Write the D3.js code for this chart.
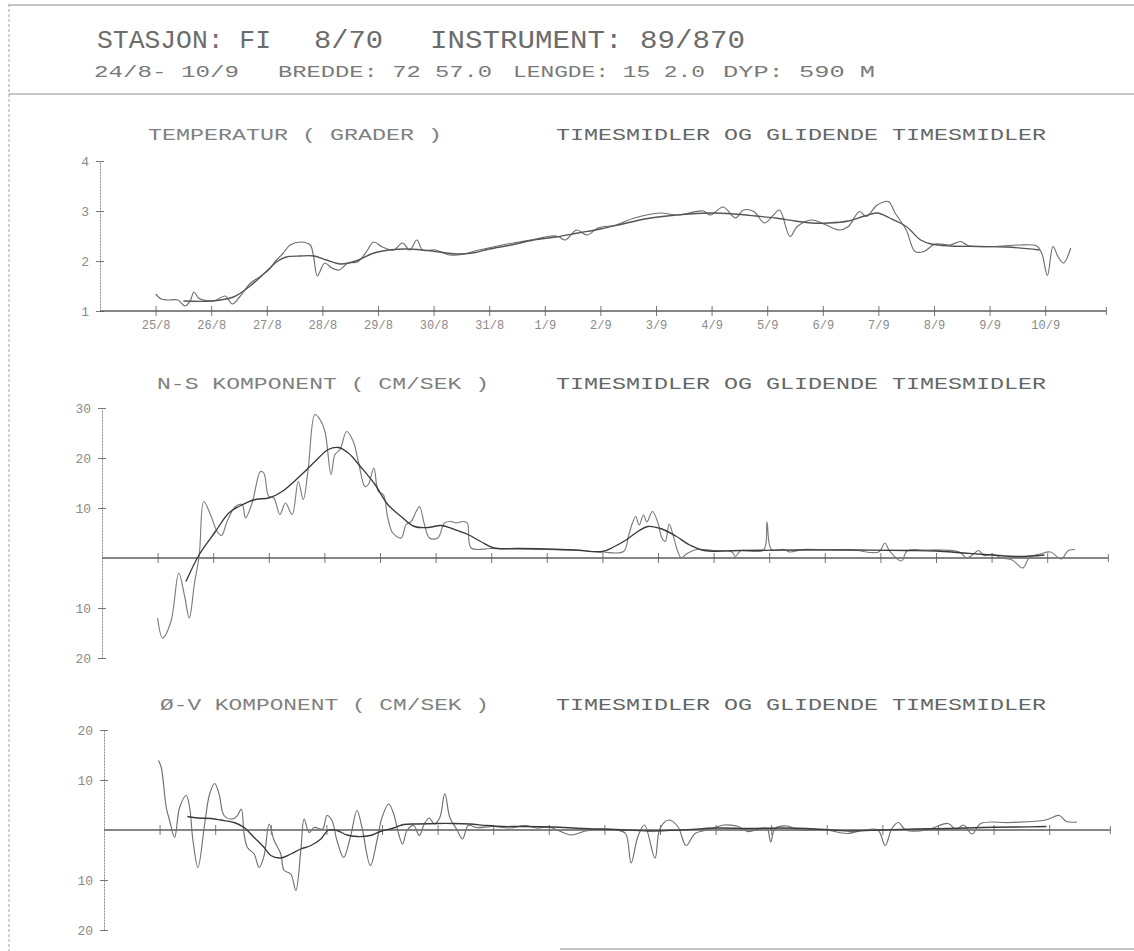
<!DOCTYPE html>
<html><head><meta charset="utf-8">
<script src="https://cdn.jsdelivr.net/npm/d3@7/dist/d3.min.js"></script>
<style>
html,body{margin:0;padding:0;background:#fff;}
svg text{font-family:"Liberation Mono","DejaVu Sans Mono",monospace;fill:#707070;}
</style></head>
<body>
<svg id="c" width="1134" height="951"></svg>
<script>
// ---------- data ----------
const dayLabels = ["25/8","26/8","27/8","28/8","29/8","30/8","31/8","1/9","2/9","3/9","4/9","5/9","6/9","7/9","8/9","9/9","10/9"];
const dayTicks = d3.range(1, 18);
const tempTicks = [1, 2, 3, 4];
const nsTicks = [30, 20, 10, -10, -20];
const ovTicks = [20, 10, -10, -20];

const headerLine1 = [["STASJON: FI", 97, 271], ["8/70", 314, 383], ["INSTRUMENT: 89/870", 430, 745]];
const headerLine2 = [["24/8- 10/9", 94, 239], ["BREDDE: 72 57.0", 278, 492], ["LENGDE: 15 2.0", 513, 705], ["DYP: 590 M", 723, 875]];
const titleRight = "TIMESMIDLER OG GLIDENDE TIMESMIDLER";
const titleTemp = "TEMPERATUR ( GRADER )";
const titleNS = "N-S KOMPONENT ( CM/SEK )";
const titleOV = "Ø-V KOMPONENT ( CM/SEK )";

// temperature: hourly means and sliding means [day, degrees]
const tempHourly = [[1.0,1.34],[1.1,1.24],[1.2,1.22],[1.4,1.22],[1.53,1.1],[1.62,1.2],[1.69,1.38],[1.77,1.26],[1.86,1.22],[2.05,1.2],[2.25,1.3],[2.38,1.14],[2.51,1.28],[2.7,1.55],[2.87,1.68],[3.03,1.82],[3.16,2.0],[3.29,2.15],[3.42,2.32],[3.62,2.38],[3.78,2.32],[3.84,2.1],[3.91,1.7],[4.04,1.96],[4.17,1.86],[4.3,1.82],[4.46,1.96],[4.63,1.98],[4.79,2.18],[4.92,2.38],[5.08,2.28],[5.28,2.22],[5.44,2.36],[5.57,2.22],[5.7,2.42],[5.8,2.22],[6.03,2.22],[6.29,2.12],[6.55,2.14],[6.81,2.22],[7.07,2.28],[7.33,2.34],[7.53,2.38],[7.85,2.44],[8.11,2.5],[8.24,2.49],[8.37,2.42],[8.57,2.62],[8.76,2.52],[8.96,2.66],[9.28,2.72],[9.61,2.86],[10.07,2.96],[10.39,2.92],[10.85,3.0],[10.98,2.92],[11.21,3.08],[11.43,2.86],[11.57,3.02],[11.76,2.99],[11.95,2.76],[12.09,2.89],[12.22,3.02],[12.41,2.49],[12.54,2.69],[12.8,2.82],[13.06,2.72],[13.3,2.62],[13.46,2.69],[13.66,2.99],[13.78,2.89],[13.98,3.12],[14.18,3.19],[14.3,2.96],[14.5,2.62],[14.66,2.19],[14.82,2.19],[15.02,2.34],[15.29,2.32],[15.48,2.39],[15.61,2.31],[16.06,2.29],[16.52,2.32],[16.85,2.3],[16.94,2.15],[17.04,1.71],[17.14,2.29],[17.23,2.09],[17.33,1.96],[17.46,2.26]];
const tempSmooth = [[1.5,1.2],[2.0,1.2],[2.4,1.28],[2.7,1.5],[3.0,1.8],[3.2,2.0],[3.35,2.08],[3.6,2.1],[3.85,2.1],[4.07,2.02],[4.33,1.94],[4.6,2.0],[4.9,2.15],[5.2,2.22],[5.5,2.24],[5.8,2.22],[6.1,2.18],[6.4,2.14],[6.7,2.16],[7.0,2.24],[7.4,2.32],[7.8,2.42],[8.2,2.48],[8.6,2.56],[9.0,2.64],[9.4,2.74],[9.8,2.84],[10.2,2.9],[10.6,2.94],[11.0,2.96],[11.4,2.94],[11.8,2.9],[12.15,2.86],[12.5,2.8],[12.8,2.76],[13.1,2.76],[13.46,2.8],[13.75,2.9],[13.98,2.96],[14.2,2.86],[14.5,2.69],[14.76,2.42],[14.95,2.34],[15.3,2.3],[15.8,2.29],[16.3,2.28],[16.9,2.22]];

// N-S component [day, cm/s]
const nsHourly = [[1.0,-12],[1.09,-16],[1.24,-12.7],[1.38,-3],[1.48,-7.3],[1.57,-12],[1.66,-5.3],[1.75,0.7],[1.83,11.3],[1.95,8.7],[2.07,5.3],[2.15,4.5],[2.25,7.3],[2.4,10.3],[2.52,10.7],[2.58,8],[2.7,11],[2.85,17.3],[2.91,17],[3.0,12.3],[3.09,12],[3.2,8.7],[3.3,11],[3.42,8.7],[3.53,15.3],[3.62,11.7],[3.71,18],[3.83,28.7],[3.92,27.7],[4.01,25.3],[4.12,16.7],[4.19,20.7],[4.28,21.7],[4.4,25.3],[4.52,23.3],[4.61,19.3],[4.73,14.3],[4.79,14.7],[4.89,18],[4.97,13.3],[5.06,12.7],[5.14,8],[5.23,5],[5.38,4],[5.47,6.7],[5.56,7.3],[5.65,9.3],[5.71,10.3],[5.8,6.7],[5.89,4],[6.04,4],[6.16,7],[6.28,7.3],[6.37,7],[6.49,7.3],[6.57,7],[6.64,2],[7.0,1.9],[7.5,1.8],[8.0,1.7],[8.5,1.6],[9.0,1.2],[9.38,1.3],[9.47,4.4],[9.54,7],[9.6,8.3],[9.66,6.6],[9.74,8.6],[9.8,7.2],[9.9,9.3],[10.0,7],[10.07,4],[10.13,3.3],[10.2,6.8],[10.26,5],[10.35,1.5],[10.42,0],[10.51,0.8],[10.7,1.7],[11.0,1.5],[11.33,1.2],[11.39,0.3],[11.46,1.2],[11.5,1.5],[11.9,1.6],[11.96,7.2],[12.04,1.7],[12.27,1.7],[12.37,1.2],[12.6,1.7],[13.0,1.6],[13.5,1.6],[13.97,1.2],[14.08,3.0],[14.16,1.5],[14.38,-0.6],[14.48,1.4],[14.8,1.6],[15.42,1.2],[15.55,0],[15.64,0.5],[15.77,1.5],[15.86,0.5],[16.02,0.8],[16.18,0],[16.37,-0.4],[16.56,-2],[16.68,0.1],[16.87,0.8],[17.06,1.2],[17.25,-0.2],[17.38,1.5],[17.5,1.7]];
const nsSmooth = [[1.51,-4.7],[1.75,0.7],[2.04,5.3],[2.28,9],[2.46,10.3],[2.76,11.7],[3.0,12],[3.24,13.3],[3.59,16.7],[3.83,19.3],[4.07,21.7],[4.25,22.1],[4.43,21],[4.67,18],[4.91,14.7],[5.14,10.7],[5.38,8.3],[5.62,6.3],[5.86,6.1],[6.1,6.5],[6.34,5.7],[6.58,4.7],[6.81,3.3],[7.05,2],[7.5,1.9],[8.0,1.8],[8.5,1.6],[9.0,1.3],[9.2,2.2],[9.44,3.7],[9.65,5.4],[9.82,6.3],[10.07,5.8],[10.32,4.4],[10.57,2.6],[10.83,1.5],[11.5,1.5],[12.5,1.6],[13.5,1.6],[14.5,1.5],[15.0,1.4],[15.5,1.0],[16.0,0.6],[16.5,0.3],[16.95,0.6]];

// Ø-V component [day, cm/s]
const ovHourly = [[0.98,13.9],[1.03,12.5],[1.12,4.5],[1.18,1.9],[1.27,-1.5],[1.36,4.5],[1.48,6.9],[1.54,4.5],[1.6,-2.1],[1.69,-7.5],[1.81,1.2],[1.9,7.2],[1.99,9.3],[2.07,7.2],[2.16,2.9],[2.31,2.2],[2.4,2.9],[2.47,4.2],[2.52,-0.8],[2.58,-3.5],[2.7,-4.8],[2.79,-7.5],[2.88,-5.1],[2.97,1.2],[3.06,-2.1],[3.18,-4.8],[3.24,-8.1],[3.36,-8.8],[3.45,-12.1],[3.54,-4.1],[3.6,2.2],[3.69,-0.5],[3.78,0.5],[3.93,0.2],[4.01,2.9],[4.1,1.9],[4.19,-2.1],[4.31,-5.5],[4.43,-1.5],[4.55,3.9],[4.64,0.5],[4.79,-7.1],[4.91,-2.1],[5.0,2.5],[5.12,5.2],[5.21,3.2],[5.3,-0.8],[5.37,-2.8],[5.45,-0.1],[5.57,0.9],[5.67,-1.1],[5.76,1.2],[5.85,2.4],[5.94,1.2],[6.04,2.5],[6.13,7.3],[6.22,2.5],[6.34,0.2],[6.45,-1.8],[6.55,0.9],[6.7,0.5],[7.0,0.7],[7.3,0.4],[7.57,0.9],[7.78,0.4],[8.0,0.6],[8.15,0],[8.4,-1],[8.66,-0.2],[9.0,0.2],[9.22,0],[9.38,-0.7],[9.48,-6.6],[9.6,-1.4],[9.72,1.0],[9.91,-5.6],[10.0,0.3],[10.16,2.0],[10.32,0.7],[10.47,-3.1],[10.63,-0.7],[10.85,0],[11.16,1.0],[11.41,0.7],[11.57,-0.3],[11.92,0.3],[11.99,-2.4],[12.07,0.3],[12.29,0.8],[12.48,0],[12.98,0],[13.36,-0.7],[13.67,0],[13.92,0],[14.05,-3.1],[14.17,0.3],[14.29,1.5],[14.42,0],[14.8,0],[15.18,1.3],[15.33,0.1],[15.46,1.0],[15.61,-0.8],[15.77,1.3],[16.3,1.5],[16.93,2.0],[17.18,2.9],[17.31,1.7],[17.5,1.6]];
const ovSmooth = [[1.5,2.7],[1.69,2.4],[1.93,2.3],[2.1,2],[2.34,1.5],[2.52,0.5],[2.7,-1.5],[2.88,-3.5],[3.0,-5.1],[3.18,-5.6],[3.36,-4.8],[3.54,-3.8],[3.72,-3.1],[3.9,-1.8],[4.04,0],[4.19,-0.1],[4.37,-1],[4.55,-1.3],[4.79,-1.1],[4.97,-0.3],[5.21,0.4],[5.39,1.1],[5.63,1.2],[5.99,1.3],[6.28,1.3],[6.58,1.2],[6.88,0.9],[7.18,0.7],[7.48,0.7],[8.07,0.6],[8.6,0.3],[9.2,0.1],[9.8,-0.2],[10.4,0],[11.0,0.4],[11.6,0.3],[12.2,0.4],[12.8,0.2],[13.4,-0.2],[14.0,0],[14.6,0.2],[15.2,0.3],[15.8,0.5],[16.4,0.6],[16.95,0.7]];

// ---------- drawing ----------
const svg = d3.select("#c");
const axisColor = "#767676";
const DAY_END = 18.1;
const FONT = '"Liberation Mono","DejaVu Sans Mono",monospace';

// page frame (scan borders)
svg.append("line").attr("x1",9).attr("x2",9).attr("y1",4).attr("y2",951).attr("stroke","#a0a0a0").attr("stroke-width",1).attr("stroke-dasharray","3,2");
svg.append("line").attr("x1",9).attr("x2",1134).attr("y1",5).attr("y2",5).attr("stroke","#8c8c8c").attr("stroke-width",1.2);
svg.append("line").attr("x1",9).attr("x2",1134).attr("y1",94).attr("y2",94).attr("stroke","#8c8c8c").attr("stroke-width",1.2);
svg.append("line").attr("x1",560).attr("x2",1134).attr("y1",949).attr("y2",949).attr("stroke","#8c8c8c").attr("stroke-width",1.2);

function seg(list, y, size, fill){
  list.forEach(([t, x0, x1]) => {
    svg.append("text").attr("x", x0).attr("y", y).attr("font-size", size).style("fill", fill)
      .attr("textLength", x1 - x0).attr("lengthAdjust", "spacingAndGlyphs").text(t);
  });
}
seg(headerLine1, 48, 26, "#6c6c6c");
seg(headerLine2, 77, 17, "#7a7a7a");

function title(t, x0, x1, y, fill){
  svg.append("text").attr("x", x0).attr("y", y).attr("font-size", 17).style("fill", fill)
    .attr("textLength", x1 - x0).attr("lengthAdjust", "spacingAndGlyphs").text(t);
}

function panel(cfg){
  const x = d3.scaleLinear().domain([0, DAY_END]).range([cfg.x0, cfg.x0 + DAY_END * 55.6]);
  const y = d3.scaleLinear().domain(cfg.yDomain).range(cfg.yRange);
  const g = svg.append("g");

  // y axis
  const ya = d3.axisLeft(y).tickValues(cfg.yTicks).tickSize(0).tickPadding(11)
    .tickFormat(d => String(Math.abs(d)));
  const yg = g.append("g").attr("transform", `translate(${cfg.x0},0)`).call(ya);
  yg.select(".domain").attr("stroke", "#8a8a8a").attr("stroke-width", 1).attr("stroke-dasharray","2,1");
  yg.selectAll(".tick line").attr("x1", -4).attr("x2", 4).attr("stroke", axisColor);
  yg.selectAll(".tick text").attr("font-size", 13).style("fill", "#8a8a8a").style("font-family", FONT);

  // x axis at baseline
  const base = cfg.baseline;
  const xa = d3.axisBottom(x).tickValues(dayTicks).tickSize(0).tickPadding(9)
    .tickFormat((d, i) => cfg.labels ? dayLabels[i] : "");
  const xg = g.append("g").attr("transform", `translate(0,${y(base)})`).call(xa);
  xg.select(".domain").remove();
  xg.selectAll(".tick line").attr("y1", -5).attr("y2", 5).attr("stroke", axisColor);
  xg.selectAll(".tick text").attr("font-size", 12).style("fill", "#8a8a8a").style("font-family", FONT);
  g.append("line").attr("x1", x(0)).attr("x2", x(DAY_END)).attr("y1", y(base)).attr("y2", y(base))
    .attr("stroke", "#5e5e5e").attr("stroke-width", 1.3);
  g.append("line").attr("x1", x(DAY_END)).attr("x2", x(DAY_END)).attr("y1", y(base)-4).attr("y2", y(base)+4)
    .attr("stroke", axisColor);

  const line = d3.line().x(d => x(d[0])).y(d => y(d[1])).curve(d3.curveCatmullRom.alpha(0.5));
  g.append("path").datum(cfg.hourly).attr("d", line).attr("fill","none")
    .attr("stroke", cfg.hourlyColor).attr("stroke-width", 1.15).attr("stroke-linejoin","round");
  g.append("path").datum(cfg.smooth).attr("d", line).attr("fill","none")
    .attr("stroke", cfg.smoothColor).attr("stroke-width", 1.35).attr("stroke-linejoin","round");

  title(cfg.title, cfg.tx0, cfg.tx1, cfg.ty, "#808080");
  title(titleRight, 556, 1046, cfg.ty, "#666");
}

panel({x0:100, yDomain:[1,4], yRange:[311,161], yTicks:tempTicks, baseline:1, labels:true,
  hourly:tempHourly, smooth:tempSmooth, hourlyColor:"#6e6e6e", smoothColor:"#555",
  title:titleTemp, tx0:148, tx1:442, ty:140});
panel({x0:102, yDomain:[-20,30], yRange:[658,408], yTicks:nsTicks, baseline:0, labels:false,
  hourly:nsHourly, smooth:nsSmooth, hourlyColor:"#7c7c7c", smoothColor:"#3a3a3a",
  title:titleNS, tx0:157, tx1:489, ty:389});
panel({x0:104, yDomain:[-20,20], yRange:[930,730], yTicks:ovTicks, baseline:0, labels:false,
  hourly:ovHourly, smooth:ovSmooth, hourlyColor:"#707070", smoothColor:"#3a3a3a",
  title:titleOV, tx0:160, tx1:489, ty:710});
</script>
</body></html>
